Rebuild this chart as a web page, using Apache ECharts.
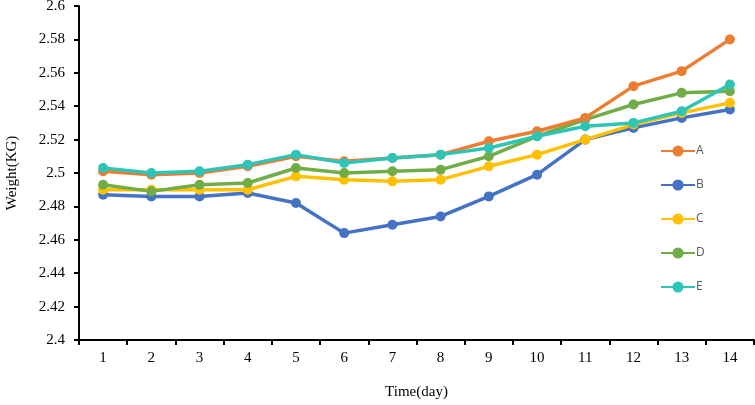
<!DOCTYPE html>
<html><head><meta charset="utf-8">
<script src="https://cdn.jsdelivr.net/npm/echarts@6/dist/echarts.min.js"></script>
<style>html,body{margin:0;padding:0;background:#fff}#c{width:755px;height:405px}</style>
</head><body><div id="c"></div>
<script>
const days = ['1','2','3','4','5','6','7','8','9','10','11','12','13','14'];
const seriesA = [2.501, 2.499, 2.500, 2.504, 2.510, 2.507, 2.509, 2.511, 2.519, 2.525, 2.533, 2.552, 2.561, 2.580];
const seriesB = [2.487, 2.486, 2.486, 2.488, 2.482, 2.464, 2.469, 2.474, 2.486, 2.499, 2.520, 2.527, 2.533, 2.538];
const seriesC = [2.490, 2.490, 2.490, 2.490, 2.498, 2.496, 2.495, 2.496, 2.504, 2.511, 2.520, 2.529, 2.536, 2.542];
const seriesD = [2.493, 2.489, 2.493, 2.494, 2.503, 2.500, 2.501, 2.502, 2.510, 2.522, 2.532, 2.541, 2.548, 2.549];
const seriesE = [2.503, 2.500, 2.501, 2.505, 2.511, 2.506, 2.509, 2.511, 2.515, 2.522, 2.528, 2.530, 2.537, 2.553];
const names = ['A','B','C','D','E'];
const colors = ['#ED7D31','#4472C4','#FFC000','#70AD47','#2EC4B6'];
const allData = [seriesA, seriesB, seriesC, seriesD, seriesE];

const chart = echarts.init(document.getElementById('c'), null, {renderer:'canvas'});
const serif = '"Liberation Serif", "Times New Roman", serif';
chart.setOption({
  animation: false,
  backgroundColor: '#fff',
  grid: {left: 79, top: 6, right: 1, bottom: 65, containLabel: false, outerBoundsMode: 'none'},
  legend: {
    orient: 'vertical', left: 655, top: 140, itemWidth: 34, itemHeight: 14, itemGap: 22,
    textStyle: {color: '#595959', fontSize: 12, fontFamily: '"Open Sans", sans-serif', padding: [0,0,0,-4]},
    data: names
  },
  xAxis: {
    type: 'category', data: days, boundaryGap: true,
    name: 'Time(day)', nameLocation: 'middle', nameGap: 45,
    nameTextStyle: {fontFamily: serif, fontSize: 15, color: '#000'},
    axisLine: {lineStyle: {color: '#000', width: 2}},
    axisTick: {show: true, alignWithLabel: false, length: 5, lineStyle: {color: '#000', width: 2}},
    axisLabel: {fontFamily: serif, fontSize: 15, color: '#000', margin: 11},
    splitLine: {show: false}
  },
  yAxis: {
    type: 'value', min: 2.4, max: 2.6, interval: 0.02,
    name: 'Weight(KG)', nameLocation: 'middle', nameGap: 59,
    nameTextStyle: {fontFamily: serif, fontSize: 15, color: '#000'},
    axisLine: {show: true, lineStyle: {color: '#000', width: 2}},
    axisTick: {show: true, length: 5, lineStyle: {color: '#000', width: 2}},
    axisLabel: {fontFamily: serif, fontSize: 15, color: '#000', margin: 14,
      formatter: v => String(parseFloat(v.toFixed(2)))},
    splitLine: {show: false}
  },
  series: names.map((n, i) => ({
    name: n, type: 'line', data: allData[i],
    symbol: 'circle', symbolSize: 10,
    lineStyle: {width: 3.5, color: colors[i]},
    itemStyle: {color: colors[i]},
    z: i === 4 ? 5 : 2 + (i===0?1:0)
  }))
});
</script></body></html>
